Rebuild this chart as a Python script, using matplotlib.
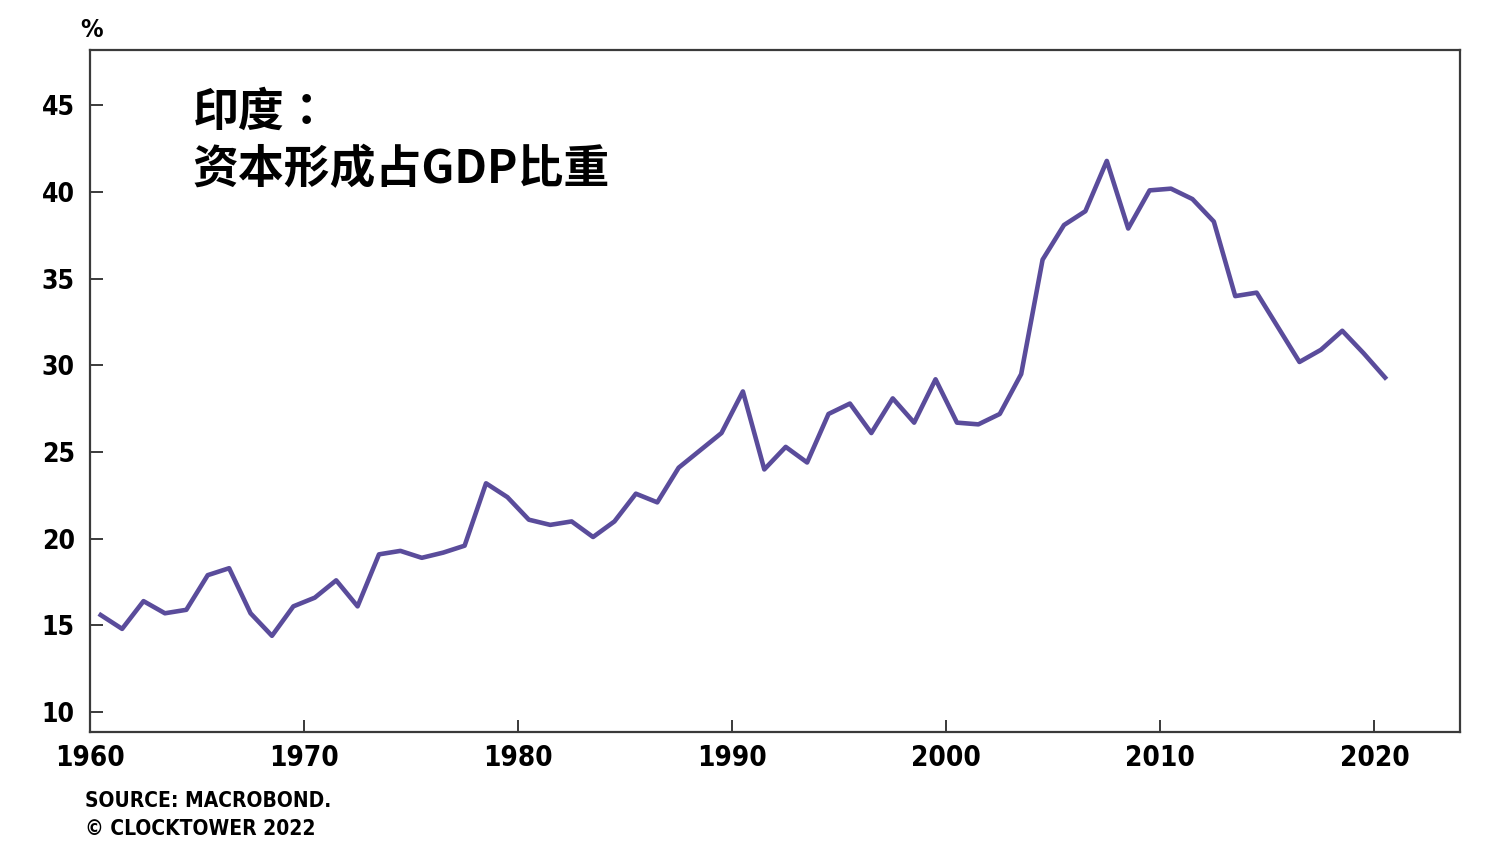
import numpy as np
import matplotlib.pyplot as plt

plt.rcParams['font.family'] = ['Noto Sans CJK SC', 'DejaVu Sans']

years = np.arange(1960, 2021) + 0.5
share = [15.6, 14.8, 16.4, 15.7, 15.9, 17.9, 18.3, 15.7, 14.4, 16.1,
         16.6, 17.6, 16.1, 19.1, 19.3, 18.9, 19.2, 19.6, 23.2, 22.4,
         21.1, 20.8, 21.0, 20.1, 21.0, 22.6, 22.1, 24.1, 25.1, 26.1,
         28.5, 24.0, 25.3, 24.4, 27.2, 27.8, 26.1, 28.1, 26.7, 29.2,
         26.7, 26.6, 27.2, 29.5, 36.1, 38.1, 38.9, 41.8, 37.9, 40.1,
         40.2, 39.6, 38.3, 34.0, 34.2, 32.2, 30.2, 30.9, 32.0, 30.7,
         29.3]
yticks = [10, 15, 20, 25, 30, 35, 40, 45]
xticks = [1960, 1970, 1980, 1990, 2000, 2010, 2020]

fig = plt.figure(figsize=(15.04, 8.68), dpi=100)
ax = fig.add_axes([90 / 1504, 136 / 868, 1370 / 1504, 682 / 868])
ax.plot(years, share, color='#5a4c9b', lw=3.3)

ax.set_xlim(1960, 2024)
ax.set_ylim(8.85, 48.2)
ax.set_xticks(xticks)
ax.set_yticks(yticks)
for s in ax.spines.values():
    s.set_color('#3a3a3a')
    s.set_linewidth(1.6)
ax.tick_params(direction='in', length=9, width=1.4, color='#3a3a3a')
ax.tick_params(axis='y', pad=11)
ax.tick_params(axis='x', pad=9)

num_font = dict(family='DejaVu Sans', stretch='condensed', weight='bold')
for lab in ax.get_yticklabels():
    lab.set(fontsize=19, **num_font)
for lab in ax.get_xticklabels():
    lab.set(fontsize=20, **num_font)

fig.text(80 / 1504, 1 - 30 / 868, '%', fontsize=18, va='center', ha='left', **num_font)
ax.text(0.075, 0.942, '印度：\n资本形成占GDP比重', transform=ax.transAxes,
        fontsize=33, weight='bold', va='top', ha='left', linespacing=1.33,
        family=['Noto Sans CJK TC', 'DejaVu Sans'])
fig.text(85 / 1504, 1 - 801 / 868, 'SOURCE: MACROBOND.', fontsize=15,
         va='center', ha='left', **num_font)
fig.text(85 / 1504, 1 - 829 / 868, '© CLOCKTOWER 2022', fontsize=15,
         va='center', ha='left', **num_font)

fig.savefig('out.png', dpi=100)
